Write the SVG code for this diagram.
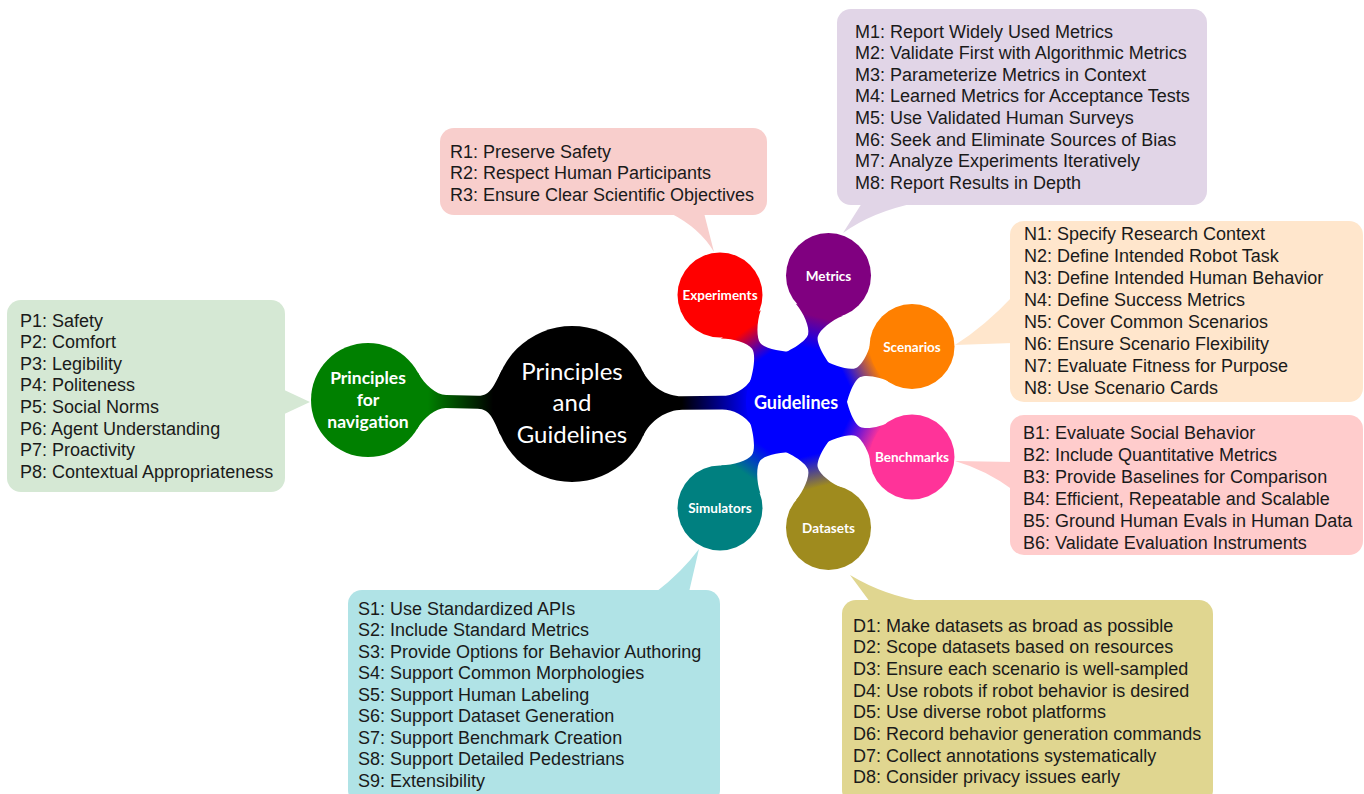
<svg xmlns="http://www.w3.org/2000/svg" xmlns:xlink="http://www.w3.org/1999/xlink" width="1364" height="794" viewBox="0 0 1364 794">
<style>
.item{font-family:"Liberation Sans",Arial,sans-serif;font-size:18px;fill:#1a1a1a}
.lbl{font-family:Lato,"Open Sans",sans-serif;font-weight:bold;font-size:13.5px;fill:#ffffff;text-anchor:middle}
.big{font-family:Lato,"Open Sans",sans-serif;font-weight:bold;font-size:17.5px;fill:#ffffff;text-anchor:middle}
.root{font-family:Lato,"Open Sans",sans-serif;font-size:24px;fill:#ffffff;text-anchor:middle}
</style>
<defs>
<path id="petal" d="M40.96,-28.68 C48.99,-17.21 61.75,-5 68.75,-5 C75.75,-5 88.31,-14.55 95.19,-24.38 L95.19,24.38 C88.31,14.55 75.75,5 68.75,5 C61.75,5 48.99,17.21 40.96,28.68 Z"/>
<linearGradient id="gExp" gradientUnits="userSpaceOnUse" x1="55" y1="0" x2="88" y2="0"><stop offset="0" stop-color="#0000ff"/><stop offset="1" stop-color="#ff0000"/></linearGradient>
<linearGradient id="gMet" gradientUnits="userSpaceOnUse" x1="55" y1="0" x2="88" y2="0"><stop offset="0" stop-color="#0000ff"/><stop offset="1" stop-color="#800080"/></linearGradient>
<linearGradient id="gSce" gradientUnits="userSpaceOnUse" x1="55" y1="0" x2="88" y2="0"><stop offset="0" stop-color="#0000ff"/><stop offset="1" stop-color="#ff8000"/></linearGradient>
<linearGradient id="gBen" gradientUnits="userSpaceOnUse" x1="55" y1="0" x2="88" y2="0"><stop offset="0" stop-color="#0000ff"/><stop offset="1" stop-color="#ff3399"/></linearGradient>
<linearGradient id="gDat" gradientUnits="userSpaceOnUse" x1="55" y1="0" x2="88" y2="0"><stop offset="0" stop-color="#0000ff"/><stop offset="1" stop-color="#9f8b1e"/></linearGradient>
<linearGradient id="gSim" gradientUnits="userSpaceOnUse" x1="55" y1="0" x2="88" y2="0"><stop offset="0" stop-color="#0000ff"/><stop offset="1" stop-color="#008080"/></linearGradient>
<linearGradient id="gMain" gradientUnits="userSpaceOnUse" x1="110" y1="0" x2="178" y2="0"><stop offset="0" stop-color="#000000"/><stop offset="1" stop-color="#0000ff"/></linearGradient>
<linearGradient id="gNav" gradientUnits="userSpaceOnUse" x1="60" y1="0" x2="125" y2="0"><stop offset="0" stop-color="#008000"/><stop offset="1" stop-color="#000000"/></linearGradient>
</defs>

<g id="callouts">
<g id="box-principles" fill="#d5e8d4">
<rect x="7" y="300" width="278" height="192" rx="14"/>
<path d="M280,388 L310,402 L280,416 Z"/>
<text class="item"><tspan x="20" y="326.5">P1: Safety</tspan><tspan x="20" y="348.1">P2: Comfort</tspan><tspan x="20" y="369.7">P3: Legibility</tspan><tspan x="20" y="391.3">P4: Politeness</tspan><tspan x="20" y="412.9">P5: Social Norms</tspan><tspan x="20" y="434.5">P6: Agent Understanding</tspan><tspan x="20" y="456.1">P7: Proactivity</tspan><tspan x="20" y="477.7">P8: Contextual Appropriateness</tspan></text>
</g>
<g id="box-experiments" fill="#f8cecc">
<rect x="440" y="128" width="327" height="87" rx="14"/>
<path d="M670,213 Q700,228 714,252 L704,213 Z"/>
<text class="item"><tspan x="450" y="157.5">R1: Preserve Safety</tspan><tspan x="450" y="179.1">R2: Respect Human Participants</tspan><tspan x="450" y="200.7">R3: Ensure Clear Scientific Objectives</tspan></text>
</g>
<g id="box-metrics" fill="#e1d5e7">
<rect x="837" y="9" width="370" height="196" rx="14"/>
<path d="M862,203 L843,233 Q872,212 915,203 Z"/>
<text class="item"><tspan x="855" y="37.5">M1: Report Widely Used Metrics</tspan><tspan x="855" y="59.1">M2: Validate First with Algorithmic Metrics</tspan><tspan x="855" y="80.7">M3: Parameterize Metrics in Context</tspan><tspan x="855" y="102.3">M4: Learned Metrics for Acceptance Tests</tspan><tspan x="855" y="123.9">M5: Use Validated Human Surveys</tspan><tspan x="855" y="145.5">M6: Seek and Eliminate Sources of Bias</tspan><tspan x="855" y="167.1">M7: Analyze Experiments Iteratively</tspan><tspan x="855" y="188.7">M8: Report Results in Depth</tspan></text>
</g>
<g id="box-scenarios" fill="#ffe6cc">
<rect x="1010" y="221" width="353" height="181" rx="14"/>
<path d="M1013,296 Q985,326 955,345 L1013,343 Z"/>
<text class="item"><tspan x="1024" y="239.5">N1: Specify Research Context</tspan><tspan x="1024" y="261.5">N2: Define Intended Robot Task</tspan><tspan x="1024" y="283.5">N3: Define Intended Human Behavior</tspan><tspan x="1024" y="305.5">N4: Define Success Metrics</tspan><tspan x="1024" y="327.5">N5: Cover Common Scenarios</tspan><tspan x="1024" y="349.5">N6: Ensure Scenario Flexibility</tspan><tspan x="1024" y="371.5">N7: Evaluate Fitness for Purpose</tspan><tspan x="1024" y="393.5">N8: Use Scenario Cards</tspan></text>
</g>
<g id="box-benchmarks" fill="#ffcccc">
<rect x="1010" y="415" width="353" height="140" rx="14"/>
<path d="M1013,462 L955,461 Q986,470 1013,490 Z"/>
<text class="item"><tspan x="1023" y="438.5">B1: Evaluate Social Behavior</tspan><tspan x="1023" y="460.5">B2: Include Quantitative Metrics</tspan><tspan x="1023" y="482.5">B3: Provide Baselines for Comparison</tspan><tspan x="1023" y="504.5">B4: Efficient, Repeatable and Scalable</tspan><tspan x="1023" y="526.5">B5: Ground Human Evals in Human Data</tspan><tspan x="1023" y="548.5">B6: Validate Evaluation Instruments</tspan></text>
</g>
<g id="box-simulators" fill="#b0e3e6">
<rect x="348" y="590" width="372" height="214" rx="14"/>
<path d="M656,592 Q682,572 699,549 L689,592 Z"/>
<text class="item"><tspan x="358" y="614.5">S1: Use Standardized APIs</tspan><tspan x="358" y="636">S2: Include Standard Metrics</tspan><tspan x="358" y="657.5">S3: Provide Options for Behavior Authoring</tspan><tspan x="358" y="679">S4: Support Common Morphologies</tspan><tspan x="358" y="700.5">S5: Support Human Labeling</tspan><tspan x="358" y="722">S6: Support Dataset Generation</tspan><tspan x="358" y="743.5">S7: Support Benchmark Creation</tspan><tspan x="358" y="765">S8: Support Detailed Pedestrians</tspan><tspan x="358" y="786.5">S9: Extensibility</tspan></text>
</g>
<g id="box-datasets" fill="#e0d690">
<rect x="842" y="600" width="371" height="204" rx="14"/>
<path d="M870,602 L850,575 Q885,596 926,602 Z"/>
<text class="item"><tspan x="853" y="631.5">D1: Make datasets as broad as possible</tspan><tspan x="853" y="653.2">D2: Scope datasets based on resources</tspan><tspan x="853" y="674.9">D3: Ensure each scenario is well-sampled</tspan><tspan x="853" y="696.6">D4: Use robots if robot behavior is desired</tspan><tspan x="853" y="718.3">D5: Use diverse robot platforms</tspan><tspan x="853" y="740">D6: Record behavior generation commands</tspan><tspan x="853" y="761.7">D7: Collect annotations systematically</tspan><tspan x="853" y="783.4">D8: Consider privacy issues early</tspan></text>
</g>
</g>

<g id="connectors">
<path fill="url(#gNav)" transform="translate(368,400) rotate(1.12)" d="M49.36,-28.5 C56.36,-16.38 68,-6.5 78,-6.5 L110,-6.5 C122,-6.5 125.7,-16.65 133.31,-32.96 L133.31,32.96 C125.7,16.65 122,6.5 110,6.5 L78,6.5 C68,6.5 56.36,16.38 49.36,28.5 Z"/>
<path fill="url(#gMain)" transform="translate(572,404) rotate(-0.51)" d="M70.69,-32.96 C78.3,-16.65 95,-6.8 110,-6.8 L150,-6.8 C160,-6.8 173.2,-12.01 180.7,-25 L180.7,25 C173.2,12.01 160,6.8 150,6.8 L110,6.8 C95,6.8 78.3,16.65 70.69,32.96 Z"/>
<use xlink:href="#petal" fill="url(#gExp)" transform="translate(796,402) rotate(-125.4)"/>
<use xlink:href="#petal" fill="url(#gMet)" transform="translate(796,402) rotate(-75.7)"/>
<use xlink:href="#petal" fill="url(#gSce)" transform="translate(796,402) rotate(-25.4)"/>
<use xlink:href="#petal" fill="url(#gBen)" transform="translate(796,402) rotate(25.4)"/>
<use xlink:href="#petal" fill="url(#gDat)" transform="translate(796,402) rotate(75.7)"/>
<use xlink:href="#petal" fill="url(#gSim)" transform="translate(796,402) rotate(125.6)"/>
</g>

<g id="node-navigation">
<circle cx="368" cy="400" r="57" fill="#008000"/>
<text class="big"><tspan x="368" y="384">Principles</tspan><tspan x="368" y="406">for</tspan><tspan x="368" y="428">navigation</tspan></text>
</g>
<g id="node-root">
<circle cx="572" cy="404" r="78" fill="#000000"/>
<text class="root"><tspan x="572" y="380">Principles</tspan><tspan x="572" y="411">and</tspan><tspan x="572" y="443">Guidelines</tspan></text>
</g>
<g id="node-guidelines">
<circle cx="796" cy="402" r="50" fill="#0000ff"/>
<text class="big" x="796" y="408.5" style="font-size:18px">Guidelines</text>
</g>
<g id="node-experiments">
<circle cx="720" cy="295" r="42.5" fill="#ff0000"/>
<text class="lbl" x="720" y="299.5">Experiments</text>
</g>
<g id="node-metrics">
<circle cx="828.5" cy="275.5" r="42.5" fill="#800080"/>
<text class="lbl" x="828.5" y="280.5">Metrics</text>
</g>
<g id="node-scenarios">
<circle cx="912" cy="346.5" r="42.5" fill="#ff8000"/>
<text class="lbl" x="912" y="351.5">Scenarios</text>
</g>
<g id="node-benchmarks">
<circle cx="912" cy="457" r="42.5" fill="#ff3399"/>
<text class="lbl" x="912" y="461.5">Benchmarks</text>
</g>
<g id="node-datasets">
<circle cx="828.5" cy="527.5" r="42.5" fill="#9f8b1e"/>
<text class="lbl" x="828.5" y="532.5">Datasets</text>
</g>
<g id="node-simulators">
<circle cx="720" cy="508" r="42.5" fill="#008080"/>
<text class="lbl" x="720" y="512.5">Simulators</text>
</g>
</svg>
